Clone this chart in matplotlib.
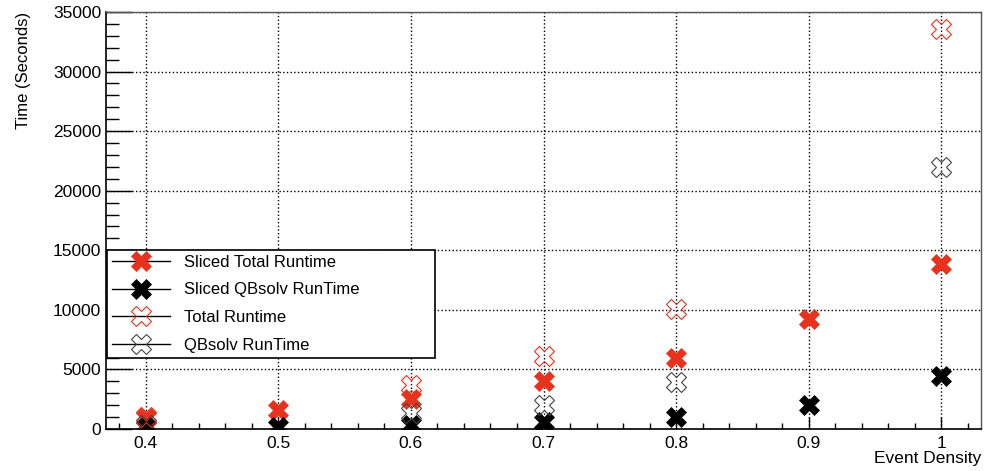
import matplotlib
matplotlib.use("Agg")
import matplotlib.pyplot as plt
from matplotlib.lines import Line2D
from matplotlib.ticker import MultipleLocator

plt.rcParams['font.family'] = ['Liberation Sans', 'DejaVu Sans']

# data
density = [0.4, 0.5, 0.6, 0.7, 0.8, 0.9, 1.0]
sliced_total = [950, 1600, 2500, 4000, 5950, 9250, 13850]
sliced_qbsolv = [150, 150, 300, 550, 1000, 2000, 4450]

density_full = [0.4, 0.6, 0.7, 0.8, 1.0]
total_runtime = [1000, 3700, 6100, 10100, 33600]
qbsolv_runtime = [300, 1300, 2000, 3950, 22000]

xticks = [0.4, 0.5, 0.6, 0.7, 0.8, 0.9, 1.0]
xtick_labels = ["0.4", "0.5", "0.6", "0.7", "0.8", "0.9", "1"]

red = '#e8321e'
ms = 15

fig = plt.figure(figsize=(9.89, 4.71), dpi=100)
ax = fig.add_axes([0.1072, 0.0892, 0.8847, 0.8853])

ax.plot(density, sliced_total, linestyle='none', marker='X', ms=ms,
        color=red, mec=red, mew=0.5)
ax.plot(density, sliced_qbsolv, linestyle='none', marker='X', ms=ms,
        color='black', mec='black', mew=0.5)
ax.plot(density_full, total_runtime, linestyle='none', marker='X', ms=ms,
        mfc='none', mec=red, mew=0.8)
ax.plot(density_full, qbsolv_runtime, linestyle='none', marker='X', ms=ms,
        mfc='none', mec='#444444', mew=0.8)

ax.set_xlim(0.37, 1.03)
ax.set_ylim(0, 35000)
ax.set_xticks(xticks)
ax.set_xticklabels(xtick_labels)
ax.xaxis.set_minor_locator(MultipleLocator(0.02))
ax.yaxis.set_major_locator(MultipleLocator(5000))
ax.yaxis.set_minor_locator(MultipleLocator(1000))

# ROOT-like ticks: inside, no ticks on top/right
ax.tick_params(axis='both', which='both', direction='in', labelsize=12.5,
               top=False, right=False, color='black')
ax.tick_params(axis='y', which='major', length=19, width=1)
ax.tick_params(axis='y', which='minor', length=9.5, width=1)
ax.tick_params(axis='x', which='major', length=9, width=1, pad=5)
ax.tick_params(axis='x', which='minor', length=4.5, width=1)

ax.grid(True, which='major', linestyle=':', color='black', linewidth=1)

for side in ['left', 'bottom']:
    ax.spines[side].set_color('black')
    ax.spines[side].set_linewidth(1.2)
for side in ['top', 'right']:
    ax.spines[side].set_color('#555555')
    ax.spines[side].set_linewidth(1.0)

ax.set_xlabel("Event Density", fontsize=12.5, loc='right', labelpad=0)
ax.set_ylabel("Time (Seconds)", fontsize=12, loc='top', labelpad=16)

handles = [
    Line2D([], [], color='black', lw=1, marker='X', ms=ms, mfc=red, mec=red, mew=0.5),
    Line2D([], [], color='black', lw=1, marker='X', ms=ms, mfc='black', mec='black', mew=0.5),
    Line2D([], [], color='black', lw=1, marker='X', ms=ms, mfc='none', mec=red, mew=0.8),
    Line2D([], [], color='black', lw=1, marker='X', ms=ms, mfc='none', mec='#444444', mew=0.8),
]
labels = ["Sliced Total Runtime", "Sliced QBsolv RunTime", "Total Runtime", "QBsolv RunTime"]
leg = ax.legend(handles, labels, loc='lower left', mode='expand',
                bbox_to_anchor=(0.001, 0.171, 0.375, 0.264),
                fontsize=12, frameon=True, fancybox=False, framealpha=1,
                edgecolor='black', handlelength=3.5, handletextpad=0.8,
                borderpad=0.3, borderaxespad=0, labelspacing=0.76)
leg.get_frame().set_linewidth(1.2)

fig.savefig("out.png", dpi=100)
